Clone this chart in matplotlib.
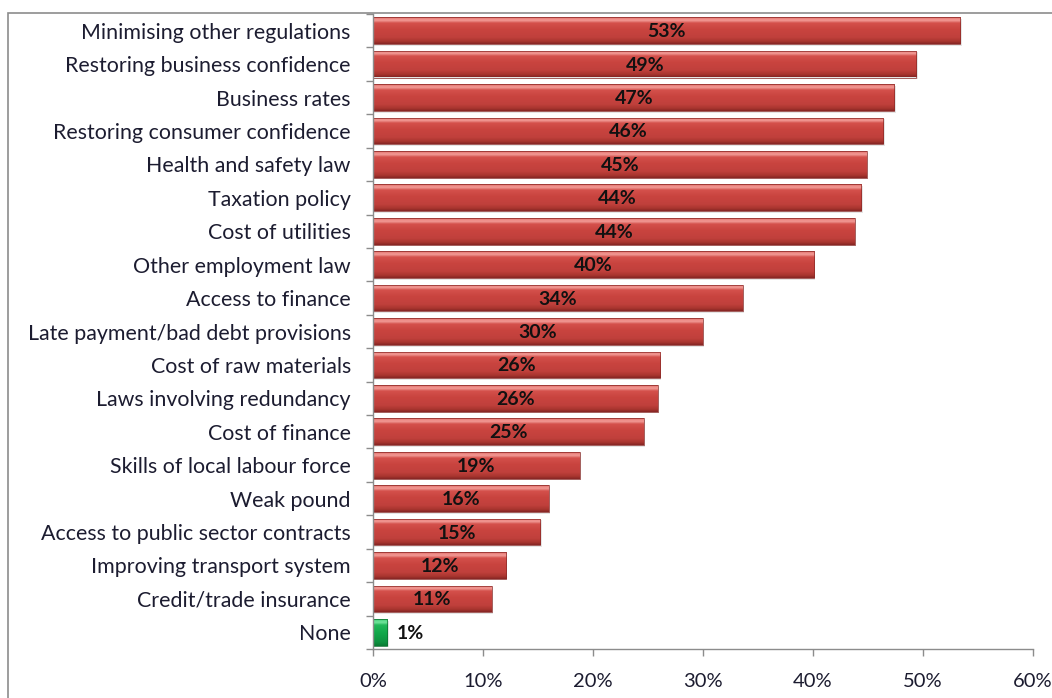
import matplotlib
matplotlib.use("Agg")
import matplotlib.pyplot as plt
import numpy as np
from matplotlib.colors import LinearSegmentedColormap
from matplotlib.patches import Rectangle

categories = [
    "Minimising other regulations",
    "Restoring business confidence",
    "Business rates",
    "Restoring consumer confidence",
    "Health and safety law",
    "Taxation policy",
    "Cost of utilities",
    "Other employment law",
    "Access to finance",
    "Late payment/bad debt provisions",
    "Cost of raw materials",
    "Laws involving redundancy",
    "Cost of finance",
    "Skills of local labour force",
    "Weak pound",
    "Access to public sector contracts",
    "Improving transport system",
    "Credit/trade insurance",
    "None",
]
values = [53.4, 49.4, 47.4, 46.4, 44.9, 44.4, 43.8, 40.1, 33.6, 30.0, 26.1, 25.9,
          24.6, 18.8, 16.0, 15.2, 12.1, 10.8, 1.3]
value_labels = ["53%", "49%", "47%", "46%", "45%", "44%", "44%", "40%", "34%", "30%",
                "26%", "26%", "25%", "19%", "16%", "15%", "12%", "11%", "1%"]
xticks = [0, 10, 20, 30, 40, 50, 60]
xtick_labels = ["0%", "10%", "20%", "30%", "40%", "50%", "60%"]

FONT = ["Lato", "DejaVu Sans"]
plt.rcParams["font.family"] = FONT

W, H = 1052, 698
fig = plt.figure(figsize=(W / 100, H / 100), dpi=100)

# outer chart frame
frame = Rectangle((8 / W, -0.05), 1.2, 1 - 13 / H + 0.05, transform=fig.transFigure,
                  fill=False, edgecolor="#8c8c8c", linewidth=1.2)
fig.patches.append(frame)

ax = fig.add_axes([373 / W, 1 - 649 / H, (1033 - 373) / W, (649 - 14) / H])

n = len(categories)
ypos = np.arange(n)
# gradient stops listed from bar top (0) to bar bottom (1)
red_cmap = LinearSegmentedColormap.from_list("red", [
    (0.0, "#cf5550"), (0.06, "#ee8a85"), (0.13, "#f09893"), (0.22, "#d4504b"),
    (0.45, "#c9443f"), (0.75, "#c0403c"), (0.9, "#a8352f"), (1.0, "#842523")])
green_cmap = LinearSegmentedColormap.from_list("green", [
    (0.0, "#2cbf63"), (0.06, "#5fdc8e"), (0.13, "#6fe39a"), (0.22, "#22b85a"),
    (0.5, "#12a94b"), (0.85, "#0e9240"), (1.0, "#0a7a33")])

bar_h = 0.8
bars = ax.barh(ypos, values, height=bar_h, color="none", edgecolor="none", zorder=2)
grad = np.linspace(0, 1, 256).reshape(-1, 1)
for i, (b, v) in enumerate(zip(bars, values)):
    cmap = green_cmap if categories[i] == "None" else red_cmap
    y0 = b.get_y()
    # soft shadow
    ax.add_patch(Rectangle((b.get_x() + 0.12, y0 + 0.05), b.get_width(), bar_h,
                           facecolor="#000000", alpha=0.10, edgecolor="none", zorder=1.5))
    # axis is inverted: y0 is the visual top of the bar
    im = ax.imshow(grad, cmap=cmap, aspect="auto", origin="upper",
                   extent=(b.get_x(), b.get_x() + b.get_width(), y0 + bar_h, y0),
                   zorder=2.1, interpolation="bilinear")
    im.set_clip_path(b)
    edge = "#0b6e2e" if categories[i] == "None" else "#8a2a27"
    ax.add_patch(Rectangle((b.get_x(), y0), b.get_width(), bar_h, facecolor="none",
                           edgecolor=edge, linewidth=0.5, zorder=2.2))

for i, (v, lab) in enumerate(zip(values, value_labels)):
    if categories[i] == "None":
        ax.text(v + 0.9, i + 0.03, lab, ha="left", va="center", fontsize=14, fontweight="bold",
                color="#111111", zorder=3)
    else:
        ax.text(v / 2, i + 0.03, lab, ha="center", va="center", fontsize=14, fontweight="bold",
                color="#111111", zorder=3)

ax.set_xlim(0, 60)
ax.set_ylim(n - 0.5, -0.5)
ax.set_xticks(xticks)
ax.set_xticklabels(xtick_labels)
ax.set_yticks(ypos)
ax.set_yticklabels(categories)
ax.set_yticks(np.arange(n + 1) - 0.5, minor=True)
ax.tick_params(axis="y", which="major", length=0, pad=16, labelsize=15.4, labelcolor="#1c1c30")
ax.tick_params(axis="y", which="minor", length=5, color="#8c8c8c", width=1)
ax.tick_params(axis="x", which="major", length=5, color="#8c8c8c", width=1, pad=12,
               labelsize=14.5, labelcolor="#1c1c30")
for s in ["top", "right"]:
    ax.spines[s].set_visible(False)
for s in ["left", "bottom"]:
    ax.spines[s].set_color("#8c8c8c")
    ax.spines[s].set_linewidth(1)

fig.savefig("out.png", dpi=100)
